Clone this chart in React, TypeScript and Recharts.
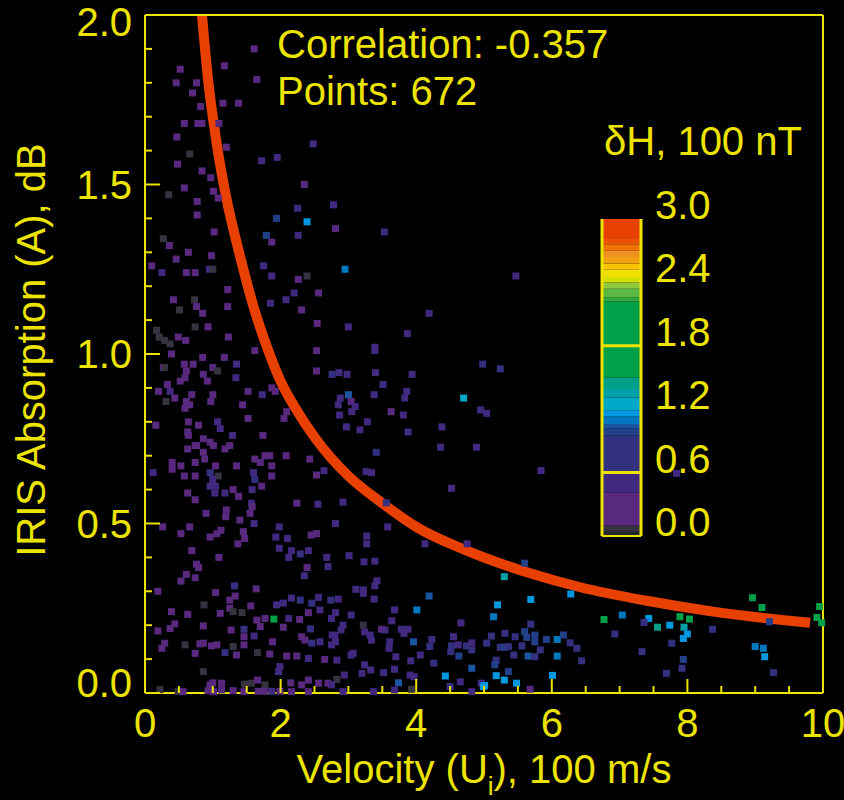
import React from 'react';
import { ComposedChart, BarChart, Bar, Scatter, Line, XAxis, YAxis, ReferenceLine } from 'recharts';

const YELLOW = '#ece400';
const FONT = '"Liberation Sans", Arial, Helvetica, sans-serif';

// Axes
const velocityTicks = [0, 0.5, 1, 1.5, 2, 2.5, 3, 3.5, 4, 4.5, 5, 5.5, 6, 6.5, 7, 7.5, 8, 8.5, 9, 9.5, 10];
const velocityMajor = [0, 2, 4, 6, 8, 10];
const velocityLabels = ['0', '2', '4', '6', '8', '10'];
const absorptionTicks = [0, 0.1, 0.2, 0.3, 0.4, 0.5, 0.6, 0.7, 0.8, 0.9, 1.0, 1.1, 1.2, 1.3, 1.4, 1.5, 1.6, 1.7, 1.8, 1.9, 2.0];
const absorptionMajor = [0, 0.5, 1.0, 1.5, 2.0];
const absorptionLabels = ['0.0', '0.5', '1.0', '1.5', '2.0'];

// Colour bar (δH, 100 nT)
const deltaHTicks = [0, 0.6, 1.2, 1.8, 2.4, 3.0];
const deltaHLabels = ['0.0', '0.6', '1.2', '1.8', '2.4', '3.0'];
const deltaHMarked = [0.6, 1.8];
const deltaHEdges = [0, 0.04, 0.1, 0.41, 0.59, 0.95, 1.02, 1.06, 1.13, 1.19, 1.31, 1.39, 1.5, 2.22, 2.26, 2.34, 2.4, 2.45, 2.52, 2.58, 2.64, 2.7, 2.76, 2.81, 3.0];
const deltaHColors = ['#24242e', '#35333f', '#58297e', '#41297f', '#33307f', '#22408a', '#1a55a0', '#0078c0', '#0098e0', '#00a8c8', '#00a0a8', '#00a088', '#00a048', '#30a840', '#5cb844', '#90c840', '#d4e000', '#f0e000', '#f8c400', '#f0a010', '#f09020', '#f07400', '#e85400', '#e84000'];

// Annotations
const correlationText = 'Correlation: -0.357';
const pointsText = 'Points: 672';

// Fitted curve
const fitVelocity = [0.84, 0.93, 1.05, 1.2, 1.4, 1.6, 1.8, 2.0, 2.25, 2.5, 3.0, 3.5, 4.0, 4.72, 5.68, 6.42, 7.4, 8.38, 9.81];
const fitAbsorption = [2.0, 1.81, 1.63, 1.46, 1.29, 1.14, 1.02, 0.92, 0.83, 0.755, 0.64, 0.56, 0.49, 0.422, 0.353, 0.312, 0.272, 0.24, 0.207];

// Scatter points: [velocity, absorption, δH]
const scatterPoints: number[][] = [
  [1.61,1.90,0.3],[1.17,1.85,0.3],[0.52,1.84,0.3],[1.65,1.81,0.3],[0.46,1.80,0.3],[0.76,1.80,0.3],[0.70,1.77,0.3],[1.15,1.74,0.3],[1.38,1.74,0.3],[0.82,1.73,0.3],
  [0.58,1.68,0.3],[0.78,1.68,0.3],[0.84,1.68,0.3],[1.09,1.68,0.3],[0.47,1.64,0.15],[2.48,1.62,0.5],[1.20,1.61,0.3],[0.66,1.59,0.05],[1.72,1.57,0.5],[1.95,1.58,0.5],
  [0.48,1.56,0.3],[0.84,1.54,0.3],[0.97,1.52,0.4],[0.58,1.49,0.3],[2.35,1.50,0.3],[0.35,1.47,0.05],[1.01,1.48,0.4],[1.08,1.46,0.3],[0.77,1.45,0.3],[2.78,1.44,0.5],
  [2.25,1.43,0.5],[0.77,1.41,0.3],[1.94,1.40,0.98],[2.39,1.39,1.15],[2.81,1.37,0.3],[1.02,1.36,0.3],[1.79,1.35,0.98],[2.26,1.35,0.5],[3.53,1.36,0.5],[0.27,1.34,0.07],
  [1.87,1.33,0.3],[0.36,1.32,0.3],[0.64,1.30,0.3],[0.98,1.29,0.3],[0.46,1.28,0.3],[0.10,1.26,0.3],[2.95,1.25,1.08],[0.25,1.24,0.5],[0.61,1.24,0.3],[0.74,1.24,0.3],
  [0.95,1.25,0.5],[1.0,1.25,0.05],[1.75,1.26,0.5],[1.87,1.23,0.5],[2.39,1.23,0.07],[2.26,1.22,0.3],[1.22,1.19,0.3],[2.20,1.18,0.5],[2.56,1.18,0.3],[2.08,1.16,0.5],
  [0.42,1.16,0.3],[0.73,1.16,0.07],[1.85,1.15,0.5],[1.22,1.14,0.3],[0.51,1.13,0.05],[0.76,1.14,0.3],[2.31,1.13,0.3],[4.19,1.12,0.5],[0.85,1.12,0.4],[0.17,1.07,0.07],
  [0.74,1.08,0.05],[0.93,1.08,0.3],[2.54,1.09,0.3],[3.0,1.08,0.5],[3.87,1.06,0.5],[0.21,1.05,0.07],[0.29,1.04,0.05],[0.37,1.03,0.05],[0.49,1.05,0.3],[0.60,1.04,0.3],
  [1.23,1.05,0.3],[2.53,1.01,0.3],[3.39,1.02,0.5],[0.39,1.00,0.3],[5.47,1.23,0.5],
  [1.17,0.99,0.3],[0.85,0.99,0.3],[1.62,1.01,0.3],[0.27,0.96,0.3],[0.29,0.96,0.05],[0.58,0.97,0.3],[0.61,0.95,0.3],[0.71,0.97,0.3],[1.0,0.96,0.3],[1.07,0.95,0.05],
  [1.35,0.97,0.5],[0.86,0.94,0.3],[0.59,0.93,0.3],[0.52,0.92,0.3],[1.34,0.93,0.5],[0.92,0.92,0.3],[0.33,0.91,0.15],[0.20,0.89,0.3],[0.37,0.89,0.5],[0.44,0.87,0.15],
  [0.31,0.86,0.05],[0.69,0.88,0.3],[1.0,0.88,0.3],[1.52,0.89,0.3],[1.73,0.88,0.5],[1.87,0.90,0.3],[1.92,0.89,0.3],[0.61,0.86,0.3],[0.59,0.84,0.3],[0.97,0.86,0.15],
  [1.44,0.85,0.3],[0.66,0.85,0.3],[1.52,0.81,0.3],[2.05,0.81,0.3],[2.09,0.83,0.3],[0.64,0.80,0.3],[0.79,0.79,0.4],[1.07,0.80,0.5],[1.11,0.78,0.5],[0.16,0.79,0.15],
  [0.63,0.77,0.15],[0.64,0.76,0.15],[1.29,0.76,0.5],[1.74,0.76,0.3],[0.86,0.75,0.3],[0.96,0.74,0.3],[0.74,0.73,0.3],[0.76,0.73,0.3],[1.01,0.73,0.3],[1.18,0.72,0.3],
  [1.25,0.73,0.3],[0.63,0.72,0.3],[0.86,0.71,0.3],[0.40,0.68,0.3],[0.74,0.68,0.3],[0.88,0.69,0.3],[1.62,0.69,0.3],[1.70,0.68,0.3],[1.77,0.70,0.3],[1.84,0.70,0.3],
  [2.08,0.70,0.3],[2.43,0.69,0.3],[0.53,0.67,0.3],[1.04,0.67,0.3],[1.35,0.67,0.3],[1.87,0.67,0.3],[0.12,0.65,0.5],[0.40,0.66,0.3],[0.96,0.65,0.6],[1.08,0.64,0.05],
  [1.60,0.65,0.5],[1.62,0.63,0.6],[1.87,0.64,0.3],[0.58,0.64,0.3],[0.74,0.64,0.3],[1.0,0.63,0.5],[1.72,0.61,0.3],[0.96,0.61,0.5],[1.04,0.61,0.5],[1.03,0.59,0.5],
  [1.18,0.59,0.5],[1.30,0.60,0.3],[1.38,0.58,0.3],[0.63,0.59,0.3],[0.74,0.57,0.3],[1.58,0.60,0.5],[1.57,0.56,0.5],[1.58,0.55,0.3],[2.24,0.56,0.3],[0.90,0.53,0.15],
  [1.20,0.54,0.3],[1.19,0.52,0.3],[1.55,0.53,0.3],[1.40,0.51,0.3],
  [3.39,1.01,0.5],[4.98,0.97,0.75],[2.53,0.95,0.3],[2.76,0.94,0.75],[2.86,0.945,0.5],[2.98,0.94,0.5],[3.40,0.945,0.5],[3.94,0.94,0.5],[3.51,0.91,0.5],[3.86,0.89,0.5],
  [3.83,0.87,0.5],[3.38,0.88,0.5],[2.88,0.87,0.5],[2.85,0.85,0.5],[3.0,0.88,1.05],[4.70,0.87,1.2],[3.04,0.86,0.3],[3.10,0.845,0.5],[3.05,0.83,0.5],[3.63,0.83,0.3],
  [3.81,0.82,0.5],[4.95,0.835,0.5],[2.87,0.82,0.5],[3.28,0.80,0.5],[2.97,0.785,0.5],[3.17,0.776,0.5],[3.88,0.77,0.5],[4.38,0.785,0.5],[3.41,0.71,0.75],[4.36,0.725,0.5],
  [4.89,0.725,0.5],[2.53,0.643,0.3],[2.64,0.656,0.5],[3.26,0.653,0.5],[3.34,0.65,0.5],[4.52,0.604,0.5],[2.55,0.557,0.5],[2.92,0.563,0.5],[3.56,0.561,0.75],
  [5.24,0.956,0.75],[5.04,0.825,0.5],[5.84,0.656,0.5],[7.84,0.648,0.5],
  [0.26,0.49,0.3],[0.66,0.49,0.3],[0.53,0.47,0.3],[0.96,0.46,0.3],[1.06,0.47,0.3],[1.12,0.48,0.3],[1.45,0.476,0.3],[1.47,0.456,0.3],[1.61,0.50,0.5],[1.98,0.49,0.5],
  [1.93,0.46,0.5],[2.10,0.456,0.5],[2.45,0.466,0.3],[1.98,0.427,0.5],[2.16,0.42,0.5],[2.29,0.41,0.75],[2.41,0.42,0.5],[2.12,0.40,0.5],[1.37,0.44,0.3],[0.69,0.42,0.3],
  [1.09,0.40,0.3],[0.76,0.38,0.3],[0.79,0.37,0.3],[0.61,0.35,0.3],[0.74,0.34,0.3],[2.39,0.37,0.3],[2.35,0.346,0.5],[0.53,0.33,0.3],[0.19,0.30,0.3],[1.04,0.296,0.3],
  [1.32,0.316,0.75],[1.64,0.307,0.3],[1.25,0.274,0.3],[1.33,0.286,0.3],[2.16,0.28,0.5],[2.29,0.274,0.75],[2.46,0.265,0.8],[0.87,0.26,0.07],[0.39,0.24,0.15],[0.63,0.232,0.3],
  [1.11,0.235,0.15],[1.25,0.25,0.3],[1.30,0.24,0.05],[1.43,0.237,0.05],[1.56,0.257,0.3],[1.94,0.26,0.5],[2.04,0.265,0.5],[2.41,0.237,0.15],[1.65,0.215,0.3],[1.70,0.196,0.3],
  [1.77,0.22,0.3],[1.90,0.218,1.7],[2.12,0.22,0.5],[2.28,0.217,0.3],[0.44,0.204,0.3],[0.37,0.19,0.3],[0.19,0.183,0.3],[0.86,0.198,0.3],[1.27,0.186,0.3],[1.46,0.188,0.7],
  [2.04,0.194,0.3],[2.44,0.189,0.7],[1.46,0.166,0.3],[1.61,0.168,0.5],[2.31,0.166,0.3],[2.36,0.156,0.3],[2.46,0.147,0.75],[1.88,0.151,0.3],[0.29,0.147,0.3],[0.25,0.132,0.3],
  [0.59,0.142,0.07],[0.81,0.145,0.15],[0.86,0.147,0.3],[0.98,0.139,0.3],[1.06,0.142,0.3],[1.30,0.137,0.05],[1.46,0.142,0.3],[1.18,0.119,0.75],[1.35,0.112,0.3],[1.66,0.119,0.05],
  [1.84,0.115,0.3],[2.09,0.109,0.3],[2.24,0.109,0.3],[2.41,0.102,0.5],[0.74,0.117,0.3],[0.86,0.063,0.05],[1.97,0.063,0.5],[1.99,0.078,0.5],[1.0,0.03,0.3],[0.96,0.024,0.3],
  [1.13,0.029,0.3],[1.47,0.026,0.07],[1.57,0.029,0.05],[1.66,0.038,0.3],[1.77,0.024,0.05],[2.15,0.03,0.3],[2.31,0.024,0.3],[2.41,0.038,0.3],[0.22,0.01,0.05],[0.49,0.004,0.05],
  [0.56,0.004,0.3],[0.93,0.007,0.3],[1.01,0.004,0.3],[1.13,0.009,0.3],[1.30,0.007,0.3],[1.46,0.004,0.3],[1.67,0.005,0.3],[1.76,0.005,0.3],[1.87,0.005,0.5],[1.99,0.005,0.3],
  [2.16,0.004,0.3],[2.41,0.004,0.3],
  [2.81,0.50,0.5],[3.58,0.49,0.5],[3.27,0.463,0.5],[3.27,0.44,0.5],[2.53,0.47,0.3],[4.13,0.44,0.5],[4.75,0.44,0.5],[2.68,0.40,0.5],[2.70,0.373,0.5],[3.01,0.405,0.5],
  [3.23,0.387,0.5],[3.39,0.389,0.5],[3.42,0.331,0.5],[3.39,0.316,0.5],[3.11,0.306,0.5],[3.22,0.304,0.5],[3.22,0.294,0.5],[2.56,0.282,0.5],[2.74,0.274,0.9],[2.85,0.277,0.5],
  [3.38,0.277,0.5],[4.19,0.286,1.02],[2.58,0.245,0.5],[2.81,0.237,0.5],[2.75,0.22,0.5],[3.04,0.23,0.5],[3.68,0.245,0.5],[4.01,0.245,1.1],[3.64,0.213,0.5],[3.22,0.20,0.07],
  [2.92,0.20,0.5],[2.89,0.186,0.5],[2.80,0.17,0.5],[3.24,0.18,0.5],[3.32,0.171,0.5],[3.34,0.156,0.5],[3.49,0.188,0.3],[3.54,0.186,0.5],[3.78,0.188,0.5],[3.88,0.188,0.5],
  [3.82,0.176,0.5],[3.96,0.151,1.05],[3.61,0.151,0.5],[3.60,0.132,0.5],[4.23,0.158,0.5],[4.20,0.137,0.75],[4.66,0.207,0.5],[4.55,0.166,0.5],[4.52,0.139,0.75],[4.62,0.142,0.5],
  [4.74,0.139,0.75],[4.82,0.148,0.5],[4.82,0.127,0.75],[4.51,0.122,0.75],[4.63,0.109,1.0],[2.76,0.171,0.5],[2.75,0.142,0.5],[2.81,0.151,0.5],[2.58,0.151,0.5],[3.07,0.117,0.5],
  [3.04,0.112,0.5],[3.70,0.107,0.5],[3.92,0.095,0.5],[4.06,0.112,0.5],[4.26,0.088,0.75],[2.65,0.099,0.3],[2.83,0.097,0.5],[3.24,0.083,0.5],[3.33,0.068,0.5],[3.20,0.058,0.5],
  [3.52,0.06,0.5],[3.68,0.07,0.5],[3.91,0.053,0.5],[3.97,0.048,0.5],[4.82,0.073,1.05],[4.43,0.05,1.15],[2.94,0.053,0.5],[2.83,0.04,0.05],[2.56,0.029,0.3],[2.70,0.029,0.3],
  [2.75,0.024,0.5],[3.74,0.03,1.05],[3.93,0.011,0.05],[3.68,0.009,0.5],[3.37,0.004,0.5],[2.92,0.004,0.5],[4.50,0.019,0.75],[4.65,0.033,0.5],[4.82,0.004,0.5],[4.96,0.029,0.5],
  [4.99,0.019,1.15],
  [5.60,0.383,0.98],[5.30,0.343,1.35],[5.69,0.276,1.15],[5.20,0.26,1.15],[6.28,0.292,1.15],[5.14,0.225,1.1],[6.77,0.217,1.6],[7.04,0.23,1.1],[7.43,0.22,1.15],[7.36,0.208,0.75],
  [7.89,0.225,1.6],[8.03,0.218,1.5],[7.56,0.194,1.45],[7.74,0.20,1.15],[7.95,0.194,1.35],[8.0,0.174,1.15],[7.94,0.161,1.15],[8.37,0.188,0.75],[8.96,0.281,1.6],[9.10,0.252,1.5],
  [9.95,0.255,1.6],[9.91,0.223,1.6],[9.98,0.207,1.6],[9.21,0.21,0.98],[5.69,0.203,0.75],[5.31,0.176,0.75],[5.11,0.168,0.75],[5.46,0.166,0.75],[5.60,0.181,0.98],[5.63,0.164,0.98],
  [5.75,0.171,0.98],[5.04,0.147,0.75],[5.24,0.135,0.75],[5.31,0.135,0.98],[5.36,0.137,0.75],[5.56,0.139,0.75],[5.75,0.151,0.98],[5.92,0.158,0.98],[6.08,0.158,1.08],[6.17,0.171,0.98],
  [6.27,0.148,0.75],[6.37,0.132,0.75],[6.93,0.174,0.75],[7.77,0.147,0.75],[5.83,0.127,0.75],[5.65,0.109,1.02],[5.75,0.107,0.75],[5.44,0.112,0.75],[5.18,0.097,0.75],[5.16,0.083,0.98],
  [6.08,0.109,1.08],[6.44,0.095,0.75],[7.33,0.122,0.75],[7.94,0.099,0.98],[7.92,0.073,0.75],[7.69,0.058,0.75],[9.0,0.137,1.08],[9.12,0.132,1.08],[9.14,0.107,1.15],[9.27,0.06,0.75],
  [5.36,0.063,0.98],[5.18,0.051,1.15],[5.30,0.038,1.15],[6.01,0.052,1.15],[5.48,0.029,1.15],[5.01,0.022,1.15],[5.68,0.011,0.3],
];

const colorFor = (v: number) => {
  for (let i = 0; i < deltaHColors.length; i++) {
    if (v >= deltaHEdges[i] && v < deltaHEdges[i + 1]) return deltaHColors[i];
  }
  return deltaHColors[deltaHColors.length - 1];
};

const scatterData = scatterPoints.map(([u, a, dh]) => ({ u, a, dh }));
const fitData = fitVelocity.map((u, i) => ({ u, a: fitAbsorption[i] }));
const colorbarRow: Record<string, number | string> = { name: 'dH' };
deltaHColors.forEach((_, i) => {
  colorbarRow['b' + i] = deltaHEdges[i + 1] - deltaHEdges[i];
});

const idx = (arr: number[], v: number) => arr.findIndex((m) => Math.abs(m - v) < 1e-6);

const BottomTick = (props: any) => {
  const { x, y, payload } = props;
  const i = idx(velocityMajor, payload.value);
  const major = i >= 0;
  return (
    <g>
      <line x1={x} x2={x} y1={y} y2={y - (major ? 14 : 7)} stroke={YELLOW} strokeWidth={2} />
      {major && (
        <text x={x} y={y + 44} textAnchor="middle" fill={YELLOW} fontSize={40} fontFamily={FONT}>
          {velocityLabels[i]}
        </text>
      )}
    </g>
  );
};

const TopTick = (props: any) => {
  const { x, y, payload } = props;
  const major = idx(velocityMajor, payload.value) >= 0;
  return <line x1={x} x2={x} y1={y} y2={y + (major ? 14 : 7)} stroke={YELLOW} strokeWidth={2} />;
};

const LeftTick = (props: any) => {
  const { x, y, payload } = props;
  const i = idx(absorptionMajor, payload.value);
  const major = i >= 0;
  const center = Math.min(Math.max(y, 22), 683);
  return (
    <g>
      <line x1={x} x2={x + (major ? 15 : 7)} y1={y} y2={y} stroke={YELLOW} strokeWidth={2} />
      {major && (
        <text x={x - 13} y={center + 14} textAnchor="end" fill={YELLOW} fontSize={40} fontFamily={FONT}>
          {absorptionLabels[i]}
        </text>
      )}
    </g>
  );
};

const RightTick = (props: any) => {
  const { x, y, payload } = props;
  const major = idx(absorptionMajor, payload.value) >= 0;
  return <line x1={x} x2={x - (major ? 15 : 7)} y1={y} y2={y} stroke={YELLOW} strokeWidth={2} />;
};

const ColorbarTick = (props: any) => {
  const { x, y, payload } = props;
  const i = idx(deltaHTicks, payload.value);
  return (
    <text x={x + 14} y={y} textAnchor="start" fill={YELLOW} fontSize={40} fontFamily={FONT}>
      {deltaHLabels[i]}
    </text>
  );
};

const PointMark = (props: any) => {
  const { cx, cy, payload } = props;
  if (cx == null || cy == null) return null;
  return <rect x={cx - 3.5} y={cy - 3.5} width={7} height={7} fill={colorFor(payload.dh)} />;
};

export default function App() {
  const textStyle = { fill: YELLOW, fontSize: 40, fontFamily: FONT } as const;
  return (
    <div style={{ position: 'absolute', left: 0, top: 0, width: 844, height: 800, background: '#000', overflow: 'hidden' }}>
      <div style={{ position: 'absolute', left: 0, top: 0 }}>
        <ComposedChart width={844} height={800} margin={{ top: 0, right: 0, bottom: 0, left: 0 }}>
          <XAxis
            dataKey="u"
            type="number"
            domain={[0, 10]}
            ticks={velocityTicks}
            interval={0}
            height={107}
            tickSize={0}
            tickMargin={0}
            tickLine={false}
            axisLine={{ stroke: YELLOW, strokeWidth: 2 }}
            tick={<BottomTick />}
          />
          <XAxis
            xAxisId="top"
            orientation="top"
            dataKey="u"
            type="number"
            domain={[0, 10]}
            ticks={velocityTicks}
            interval={0}
            height={15}
            tickSize={0}
            tickMargin={0}
            tickLine={false}
            axisLine={{ stroke: YELLOW, strokeWidth: 2 }}
            tick={<TopTick />}
          />
          <YAxis
            dataKey="a"
            type="number"
            domain={[0, 2]}
            ticks={absorptionTicks}
            interval={0}
            width={145}
            tickSize={0}
            tickMargin={0}
            tickLine={false}
            axisLine={{ stroke: YELLOW, strokeWidth: 2 }}
            tick={<LeftTick />}
          />
          <YAxis
            yAxisId="right"
            orientation="right"
            dataKey="a"
            type="number"
            domain={[0, 2]}
            ticks={absorptionTicks}
            interval={0}
            width={21}
            tickSize={0}
            tickMargin={0}
            tickLine={false}
            axisLine={{ stroke: YELLOW, strokeWidth: 2 }}
            tick={<RightTick />}
          />
          <Scatter data={scatterData} dataKey="a" shape={<PointMark />} isAnimationActive={false} />
          <Line
            data={fitData}
            dataKey="a"
            type="monotone"
            stroke="#e84000"
            strokeWidth={10}
            dot={false}
            activeDot={false}
            isAnimationActive={false}
          />
        </ComposedChart>
      </div>
      <div style={{ position: 'absolute', left: 560, top: 160 }}>
        <BarChart
          width={200}
          height={400}
          data={[colorbarRow]}
          margin={{ top: 59, right: 117, bottom: 22, left: 40 }}
          barCategoryGap={0}
          barGap={0}
        >
          <XAxis dataKey="name" type="category" height={2} tick={false} tickLine={false} axisLine={{ stroke: YELLOW, strokeWidth: 2 }} />
          <YAxis yAxisId="l" type="number" domain={[0, 3]} width={2} tick={false} tickLine={false} axisLine={{ stroke: YELLOW, strokeWidth: 3 }} />
          <YAxis
            yAxisId="r"
            orientation="right"
            type="number"
            domain={[0, 3]}
            ticks={deltaHTicks}
            interval={0}
            width={2}
            tickSize={0}
            tickMargin={0}
            tickLine={false}
            axisLine={{ stroke: YELLOW, strokeWidth: 3 }}
            tick={<ColorbarTick />}
          />
          {deltaHColors.map((c, i) => (
            <Bar key={i} yAxisId="r" dataKey={'b' + i} stackId="cb" fill={c} isAnimationActive={false} />
          ))}
          {deltaHMarked.map((v) => (
            <ReferenceLine key={v} yAxisId="r" y={v} stroke={YELLOW} strokeWidth={3} />
          ))}
        </BarChart>
      </div>
      <svg width={844} height={800} style={{ position: 'absolute', left: 0, top: 0, pointerEvents: 'none' }}>
        <text x={277} y={58} {...textStyle}>{correlationText}</text>
        <text x={277} y={105} {...textStyle}>{pointsText}</text>
        <text x={604} y={155} {...textStyle}>δH, 100 nT</text>
        <text transform="translate(45,350) rotate(-90)" textAnchor="middle" {...textStyle}>
          IRIS Absorption (A), dB
        </text>
        <text x={484} y={783} textAnchor="middle" {...textStyle}>
          Velocity (U<tspan fontSize={26} dy={12}>i</tspan>
          <tspan dy={-12}>), 100 m/s</tspan>
        </text>
      </svg>
    </div>
  );
}
